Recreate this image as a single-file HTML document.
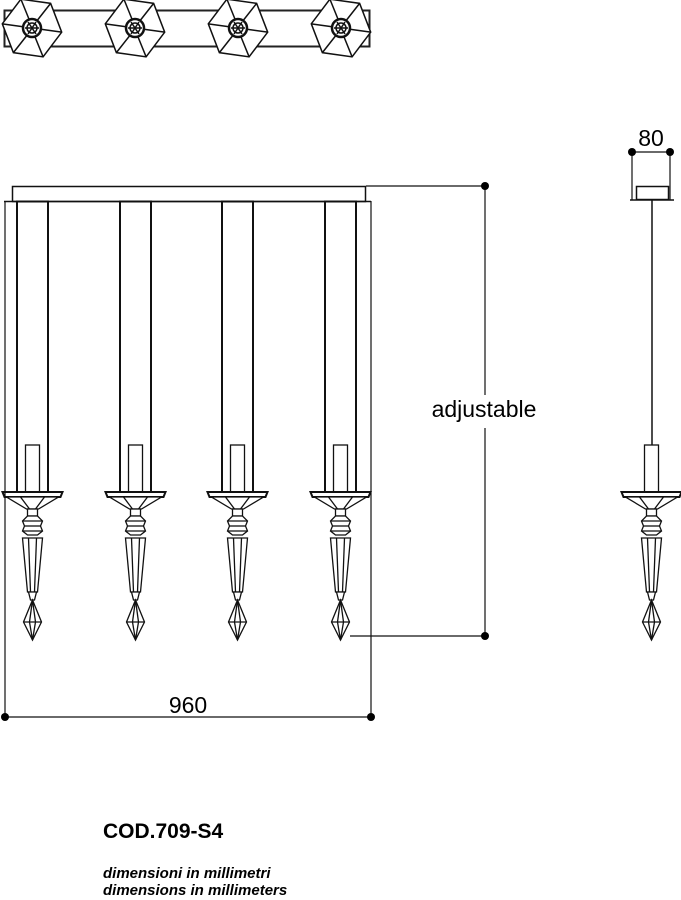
<!DOCTYPE html>
<html><head><meta charset="utf-8"><style>
html,body{margin:0;padding:0;background:#fff;width:681px;height:900px;overflow:hidden}
svg{display:block}
text{font-family:"Liberation Sans",Arial,sans-serif;fill:#000}
</style></head><body>
<svg width="681" height="900" viewBox="0 0 681 900" xmlns="http://www.w3.org/2000/svg">
<defs>
<g id="hex" fill="#fff" stroke="#111" stroke-width="1.5">
  <polygon points="-30,0 -15,-27 15,-27 30,0 15,27 -15,27" transform="rotate(8)"/>
  <g transform="rotate(8)">
    <line x1="-30" y1="0" x2="-9" y2="0"/><line x1="30" y1="0" x2="9" y2="0"/>
    <line x1="-15" y1="-27" x2="-4" y2="-8"/><line x1="15" y1="-27" x2="4" y2="-8"/>
    <line x1="-15" y1="27" x2="-4" y2="8"/><line x1="15" y1="27" x2="4" y2="8"/>
  </g>
  <circle r="9" stroke-width="2.5"/>
  <circle r="5"/>
  <line x1="-7" y1="0" x2="7" y2="0"/><line x1="-4" y1="-6" x2="4" y2="6"/><line x1="4" y1="-6" x2="-4" y2="6"/>
</g>
<g id="pend" fill="#fff" stroke="#111" stroke-width="1.3">
  <rect x="-7" y="445" width="14" height="47"/>
  <polygon points="-30,492 30,492 28,497 -28,497" stroke-width="2"/>
  <polygon points="-26,497 26,497 6,509 -6,509"/>
  <line x1="-12" y1="497" x2="-3" y2="509"/><line x1="12" y1="497" x2="3" y2="509"/>
  <rect x="-5" y="509" width="10" height="7"/>
  <polygon points="-5,516 5,516 10,521 8,526 10,531 5,535 -5,535 -10,531 -8,526 -10,521"/>
  <line x1="-10" y1="521" x2="10" y2="521"/><line x1="-8" y1="526" x2="8" y2="526"/><line x1="-10" y1="531" x2="10" y2="531"/>
  <polygon points="-10,538 10,538 5,592 -5,592"/>
  <line x1="-4" y1="538" x2="-2" y2="592"/><line x1="4" y1="538" x2="2" y2="592"/>
  <polygon points="-4,592 4,592 2,600 -2,600"/>
  <polygon points="0,600 -9,622 0,640 9,622"/>
  <line x1="-9" y1="622" x2="9" y2="622"/><line x1="0" y1="600" x2="-3" y2="622"/><line x1="0" y1="600" x2="3" y2="622"/>
  <line x1="-3" y1="622" x2="0" y2="640"/><line x1="3" y1="622" x2="0" y2="640"/>
</g>
</defs>

<rect x="4.5" y="10.5" width="365" height="36" fill="none" stroke="#222" stroke-width="2"/>
<use href="#hex" x="32" y="28"/>
<use href="#hex" x="135" y="28"/>
<use href="#hex" x="238" y="28"/>
<use href="#hex" x="341" y="28"/>

<rect x="12.5" y="186.5" width="353" height="15" fill="none" stroke="#111" stroke-width="1.5"/>
<line x1="4" y1="201.5" x2="371" y2="201.5" stroke="#111" stroke-width="1.5"/>

<g fill="none" stroke="#111" stroke-width="2">
<rect x="17" y="201.5" width="31" height="291"/>
<rect x="120" y="201.5" width="31" height="291"/>
<rect x="222" y="201.5" width="31" height="291"/>
<rect x="325" y="201.5" width="31" height="291"/>
</g>
<use href="#pend" x="32.5" y="0"/>
<use href="#pend" x="135.5" y="0"/>
<use href="#pend" x="237.5" y="0"/>
<use href="#pend" x="340.5" y="0"/>

<g stroke="#111" stroke-width="1.2">
<line x1="5" y1="201" x2="5" y2="717"/>
<line x1="371" y1="201" x2="371" y2="717"/>
<line x1="5" y1="717" x2="371" y2="717"/>
<line x1="366" y1="186" x2="485" y2="186"/>
<line x1="485" y1="186" x2="485" y2="395"/>
<line x1="485" y1="428" x2="485" y2="636"/>
<line x1="350" y1="636" x2="485" y2="636"/>
<line x1="632" y1="152" x2="670" y2="152"/>
<line x1="632" y1="152" x2="632" y2="200"/>
<line x1="670" y1="152" x2="670" y2="200"/>
</g>
<g fill="#000">
<circle cx="5" cy="717" r="4"/><circle cx="371" cy="717" r="4"/>
<circle cx="485" cy="186" r="4"/><circle cx="485" cy="636" r="4"/>
<circle cx="632" cy="152" r="4"/><circle cx="670" cy="152" r="4"/>
</g>
<text x="188" y="713" font-size="23" text-anchor="middle">960</text>
<text x="484" y="417" font-size="23" text-anchor="middle">adjustable</text>
<text x="651" y="146" font-size="23" text-anchor="middle">80</text>

<rect x="636.5" y="186.5" width="32" height="13" fill="none" stroke="#111" stroke-width="1.5"/>
<line x1="630" y1="200" x2="674" y2="200" stroke="#111" stroke-width="1.5"/>
<line x1="652" y1="200" x2="652" y2="445" stroke="#111" stroke-width="1.5"/>
<use href="#pend" x="651.5" y="0"/>

<text x="103" y="838" font-size="21" font-weight="bold">COD.709-S4</text>
<text x="103" y="878" font-size="15" font-weight="bold" font-style="italic">dimensioni in millimetri</text>
<text x="103" y="895" font-size="15" font-weight="bold" font-style="italic">dimensions in millimeters</text>
</svg>
</body></html>
